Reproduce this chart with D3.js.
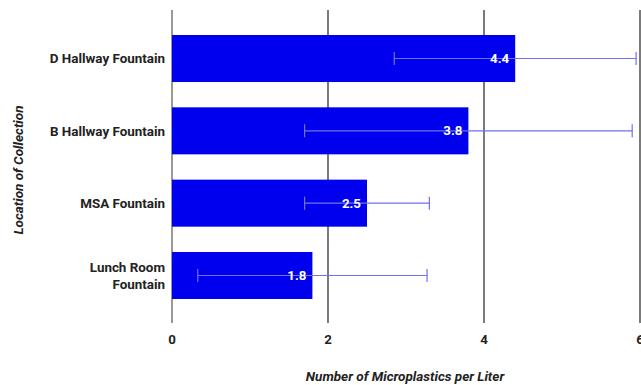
<!DOCTYPE html>
<html>
<head>
<meta charset="utf-8">
<script src="https://cdn.jsdelivr.net/npm/d3@7"></script>
<style>
  html, body { margin: 0; padding: 0; background: #fff; }
  svg { display: block; font-family: Roboto, "Noto Sans", sans-serif; }
</style>
</head>
<body>
<svg id="chart" width="641" height="385"></svg>
<script>
// Microplastic counts by collection site
const categories = ["D Hallway Fountain", "B Hallway Fountain", "MSA Fountain", "Lunch Room Fountain"];
const categoryLines = [["D Hallway Fountain"], ["B Hallway Fountain"], ["MSA Fountain"], ["Lunch Room", "Fountain"]];
const values = [4.4, 3.8, 2.5, 1.8];
const errors = [1.55, 2.1, 0.8, 1.47];
const xTicks = [0, 2, 4, 6];

const svg = d3.select("#chart");

const x = d3.scaleLinear().domain([0, 6]).range([172, 640]);
const y = d3.scaleBand().domain(categories).range([35, 299]).paddingInner(0.35).paddingOuter(0);

const gridTop = 10, gridBottom = 323;

// vertical grid lines
svg.append("g").selectAll("line").data(xTicks).join("line")
  .attr("x1", d => x(d)).attr("x2", d => x(d))
  .attr("y1", gridTop).attr("y2", gridBottom)
  .attr("stroke", d => d === 0 ? "#555" : "#222")
  .attr("stroke-width", 1.2);

// x tick labels
svg.append("g").selectAll("text").data(xTicks).join("text")
  .attr("x", d => x(d)).attr("y", 344)
  .attr("text-anchor", "middle")
  .attr("font-size", 13.3).attr("font-weight", 700).attr("fill", "#222")
  .text(d => d);

// bars
svg.append("g").selectAll("rect").data(categories).join("rect")
  .attr("x", x(0))
  .attr("y", d => y(d))
  .attr("width", (d, i) => x(values[i]) - x(0))
  .attr("height", y.bandwidth())
  .attr("fill", "#0000ee");

// error bars
const eb = svg.append("g").attr("stroke", "#7070f0").attr("stroke-width", 1.2).attr("fill", "none");
categories.forEach((c, i) => {
  const cy = y(c) + y.bandwidth() / 2;
  const lo = x(values[i] - errors[i]), hi = x(values[i] + errors[i]);
  eb.append("line").attr("x1", lo).attr("x2", hi).attr("y1", cy).attr("y2", cy);
  eb.append("line").attr("x1", lo).attr("x2", lo).attr("y1", cy - 6.5).attr("y2", cy + 6.5);
  eb.append("line").attr("x1", hi).attr("x2", hi).attr("y1", cy - 6.5).attr("y2", cy + 6.5);
});

// value labels
svg.append("g").selectAll("text").data(categories).join("text")
  .attr("x", (d, i) => x(values[i]) - 6)
  .attr("y", d => y(d) + y.bandwidth() / 2)
  .attr("dy", "0.35em")
  .attr("text-anchor", "end")
  .attr("font-size", 13.3).attr("font-weight", 700).attr("fill", "#fff")
  .text((d, i) => values[i].toFixed(1));

// category labels
const catG = svg.append("g");
categories.forEach((c, i) => {
  const lines = categoryLines[i];
  const cy = y(c) + y.bandwidth() / 2;
  const lh = 17;
  const t = catG.append("text")
    .attr("text-anchor", "end")
    .attr("font-size", 13.4).attr("font-weight", 700).attr("fill", "#222");
  lines.forEach((ln, j) => {
    t.append("tspan")
      .attr("x", 165)
      .attr("y", cy + (j - (lines.length - 1) / 2) * lh)
      .attr("dy", "0.35em")
      .text(ln);
  });
});

// axis titles
svg.append("text")
  .attr("x", 405).attr("y", 381)
  .attr("text-anchor", "middle")
  .attr("font-size", 13.5).attr("font-weight", 700).attr("font-style", "italic").attr("fill", "#222")
  .text("Number of Microplastics per Liter");

svg.append("text")
  .attr("transform", "translate(23,170) rotate(-90)")
  .attr("text-anchor", "middle")
  .attr("font-size", 13.5).attr("font-weight", 700).attr("font-style", "italic").attr("fill", "#222")
  .text("Location of Collection");
</script>
</body>
</html>
